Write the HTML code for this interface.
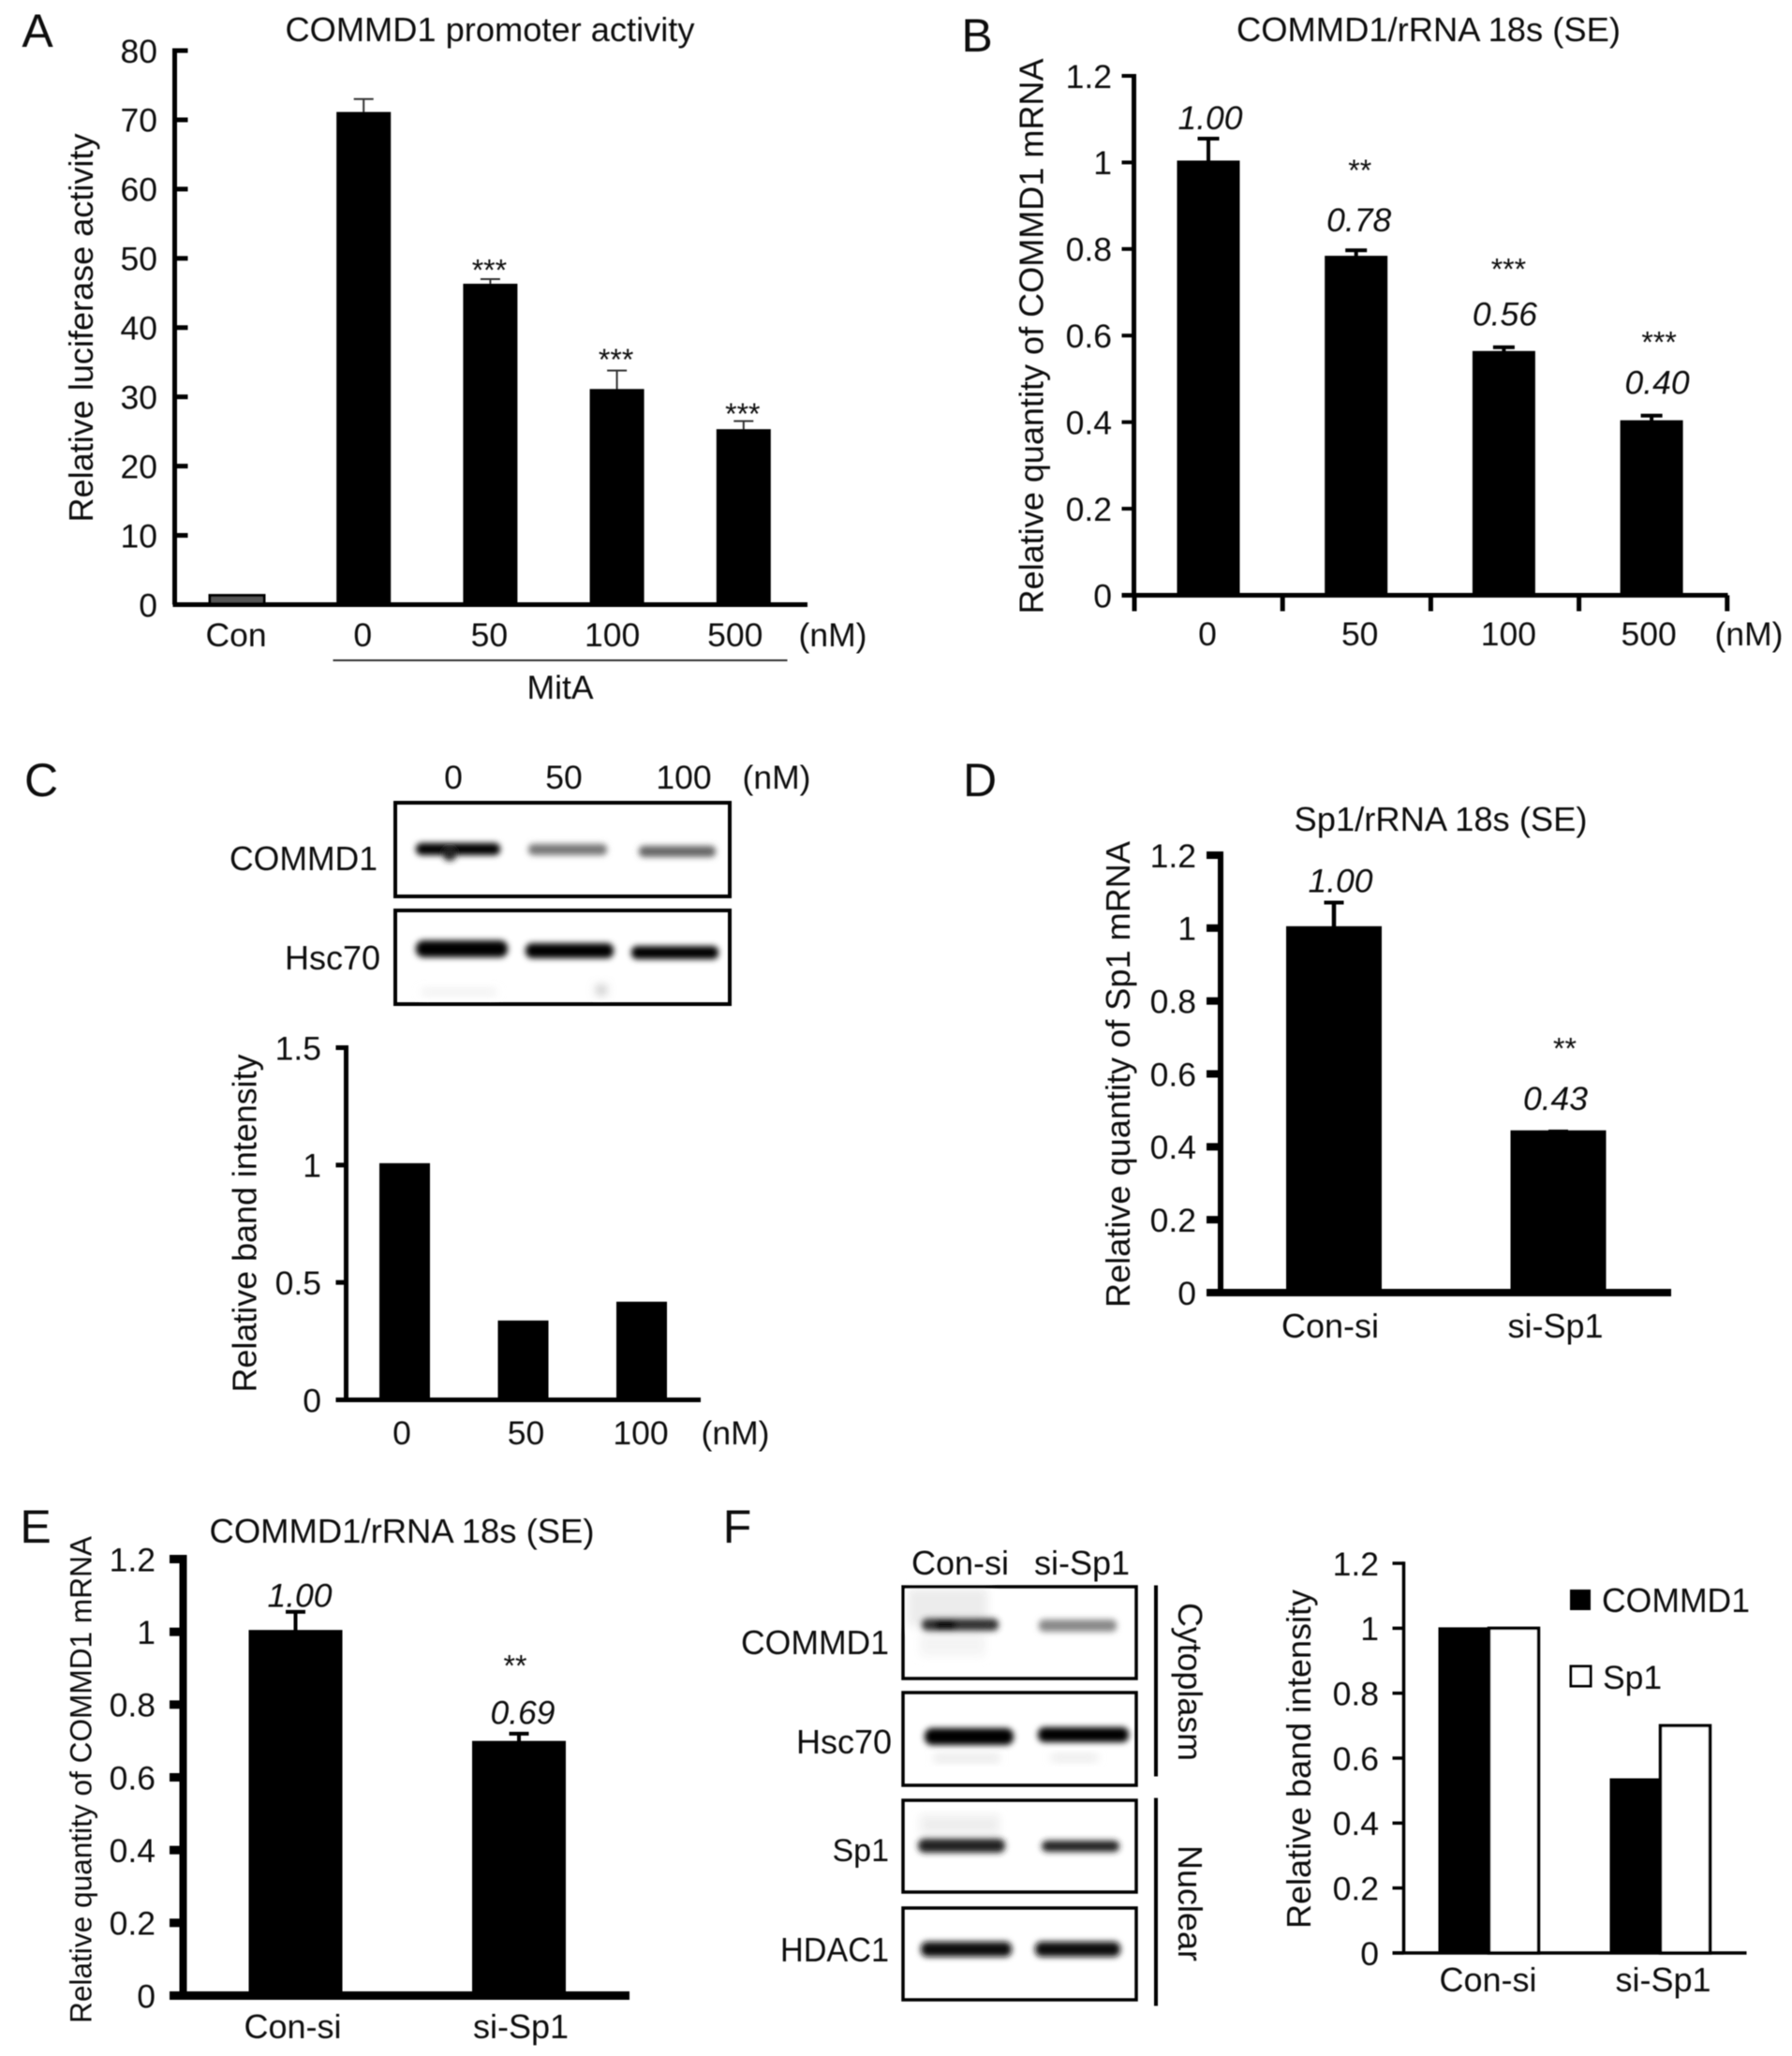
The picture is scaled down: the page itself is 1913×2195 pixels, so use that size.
<!DOCTYPE html>
<html lang="en">
<head>
<meta charset="utf-8">
<title>COMMD1 figure panels A-F</title>
<style>
html,body{margin:0;padding:0;background:#fff;}
svg{display:block;}
text{font-family:"Liberation Sans",Arial,sans-serif;fill:#111;}
</style>
</head>
<body>
<svg id="figure" xmlns="http://www.w3.org/2000/svg" width="1913" height="2195" viewBox="0 0 1913 2195">
<defs>
<filter id="soft" x="-2%" y="-2%" width="104%" height="104%"><feGaussianBlur stdDeviation="0.6"/></filter>
<filter id="bandblur" x="-30%" y="-200%" width="160%" height="500%"><feGaussianBlur stdDeviation="3.2"/></filter>
<filter id="smudge" x="-60%" y="-100%" width="220%" height="300%"><feGaussianBlur stdDeviation="5"/></filter>
</defs>
<rect x="0" y="0" width="1913" height="2195" fill="#fff"/>
<g id="root" filter="url(#soft)">

<!-- Panel C blots -->
<g>
  <g filter="url(#bandblur)">
    <rect x="444" y="900" width="90" height="13" rx="6" fill="#000"/>
    <rect x="473" y="904" width="14" height="15" rx="6" fill="#222"/>
    <rect x="564" y="901" width="84" height="12" rx="5" fill="#777"/>
    <rect x="682" y="903" width="82" height="12" rx="5" fill="#666"/>
  </g>
  <rect x="422" y="857" width="357" height="100" fill="none" stroke="#000" stroke-width="4"/>
</g>
<g>
  <g filter="url(#bandblur)">
    <rect x="444" y="1004" width="98" height="18" rx="8" fill="#000"/>
    <rect x="561" y="1007" width="94" height="16" rx="7" fill="#000"/>
    <rect x="674" y="1010" width="93" height="14" rx="6" fill="#000"/>
  </g>
  <g filter="url(#smudge)">
    <rect x="637" y="1052" width="10" height="10" fill="#bbb"/>
    <rect x="450" y="1057" width="80" height="4" fill="#e4e4e4"/>
  </g>
  <rect x="422" y="972" width="357" height="100" fill="none" stroke="#000" stroke-width="4"/>
</g>

<!-- Panel F blots -->
<g transform="translate(-3 -2)">
<g>
  <g filter="url(#smudge)">
    <rect x="972" y="1698" width="85" height="40" fill="#ececec"/>
    <rect x="985" y="1745" width="70" height="25" fill="#f4f4f4"/>
  </g>
  <g filter="url(#bandblur)">
    <rect x="987" y="1730" width="82" height="13" rx="6" fill="#333"/>
    <rect x="1000" y="1732" width="24" height="10" rx="5" fill="#000"/>
    <rect x="1112" y="1731" width="83" height="13" rx="5" fill="#888"/>
  </g>
  <rect x="967" y="1696" width="249" height="98" fill="none" stroke="#000" stroke-width="3.5"/>
</g>
<g>
  <g filter="url(#bandblur)">
    <rect x="990" y="1847" width="95" height="18" rx="8" fill="#000"/>
    <rect x="1111" y="1846" width="97" height="16" rx="7" fill="#000"/>
  </g>
  <g filter="url(#smudge)">
    <rect x="1000" y="1876" width="70" height="6" fill="#ddd"/>
    <rect x="1125" y="1876" width="50" height="5" fill="#ddd"/>
  </g>
  <rect x="967" y="1809" width="249" height="99" fill="none" stroke="#000" stroke-width="3.5"/>
</g>
<g>
  <g filter="url(#smudge)">
    <rect x="985" y="1940" width="85" height="20" fill="#eeeeee"/>
  </g>
  <g filter="url(#bandblur)">
    <rect x="983" y="1965" width="93" height="15" rx="7" fill="#222"/>
    <rect x="1115" y="1967" width="83" height="12" rx="6" fill="#222"/>
  </g>
  <rect x="967" y="1924" width="249" height="98" fill="none" stroke="#000" stroke-width="3.5"/>
</g>
<g>
  <g filter="url(#bandblur)">
    <rect x="986" y="2075" width="97" height="16" rx="7" fill="#111"/>
    <rect x="1108" y="2075" width="91" height="16" rx="7" fill="#111"/>
  </g>
  <rect x="967" y="2039" width="249" height="98" fill="none" stroke="#000" stroke-width="3.5"/>
</g>
</g>
<rect x="1232" y="1692.5" width="4" height="204" fill="#000"/>
<rect x="1232" y="1919.5" width="4" height="222" fill="#000"/>
<rect x="355.5" y="704" width="485" height="2" fill="#333"/>
</g>
</svg>

<script>
// ---------- Chart data ----------
const panelACategories = ['Con', '0', '50', '100', '500'];
const panelAValues = [1.2, 71, 46.2, 31, 25.2];
const panelAErrors = [0, 2, 0.8, 2.8, 1.3];
const panelASignificance = ['', '', '***', '***', '***'];
const panelATickLabels = ['0', '10', '20', '30', '40', '50', '60', '70', '80'];

const panelBCategories = ['0', '50', '100', '500'];
const panelBValues = [1.0, 0.78, 0.56, 0.40];
const panelBErrors = [0.055, 0.017, 0.013, 0.015];
const panelBPrinted = ['1.00', '0.78', '0.56', '0.40'];
const panelBSignificance = ['', '**', '***', '***'];
const panelBTickLabels = ['0', '0.2', '0.4', '0.6', '0.8', '1', '1.2'];

const panelCCategories = ['0', '50', '100'];
const panelCValues = [1.0, 0.33, 0.41];
const panelCTickLabels = ['0', '0.5', '1', '1.5'];

const panelDCategories = ['Con-si', 'si-Sp1'];
const panelDValues = [1.0, 0.44];
const panelDErrors = [0.07, 0.002];
const panelDPrinted = ['1.00', '0.43'];
const panelDSignificance = ['', '**'];
const panelDTickLabels = ['0', '0.2', '0.4', '0.6', '0.8', '1', '1.2'];

const panelECategories = ['Con-si', 'si-Sp1'];
const panelEValues = [1.0, 0.695];
const panelEErrors = [0.055, 0.025];
const panelEPrinted = ['1.00', '0.69'];
const panelESignificance = ['', '**'];
const panelETickLabels = ['0', '0.2', '0.4', '0.6', '0.8', '1', '1.2'];

const panelFCategories = ['Con-si', 'si-Sp1'];
const panelFCommd1 = [1.0, 0.535];
const panelFSp1 = [1.0, 0.70];
const panelFTickLabels = ['0', '0.2', '0.4', '0.6', '0.8', '1', '1.2'];

// ---------- Drawing helpers ----------
const SVGNS = 'http://www.w3.org/2000/svg';
const root = document.getElementById('root');
const FS = 35.5;
const BAR_PAD = 2; // bars in the source have a thin outline above the value

function shape(parent, tag, name, attrs) {
  const el = document.createElementNS(SVGNS, tag);
  for (const k in attrs) el.setAttribute(k, attrs[k]);
  
  
  parent.appendChild(el);
  return el;
}
function group(parent, name) {
  return shape(parent, 'g', name, {});
}
// yc = visual centre of the text line; rot = rotation about (x, yc)
function label(parent, name, str, x, yc, o) {
  o = o || {};
  const size = o.size || FS;
  const attrs = {
    'font-size': size,
    'text-anchor': o.anchor || 'middle'
  };
  if (o.italic) attrs['font-style'] = 'italic';
  if (o.rot) {
    attrs.x = 0;
    attrs.y = size * 0.36;
    attrs.transform = 'translate(' + x + ' ' + yc + ') rotate(' + o.rot + ')';
  } else {
    attrs.x = x;
    attrs.y = yc + size * 0.36;
  }
  if (o.len) {
    attrs.textLength = o.len;
    attrs.lengthAdjust = 'spacingAndGlyphs';
  }
  const el = shape(parent, 'text', name, attrs);
  el.textContent = str;
  return el;
}
function stars(parent, name, str, x, yc, size) {
  const el = shape(parent, 'text', name, {
    x: x, y: yc + size * 0.58, 'font-size': size, 'text-anchor': 'middle'
  });
  el.textContent = str;
  return el;
}
function makeY(c) {
  return function (v) {
    return c.yBase - v / c.yMax * (c.yBase - c.yTop);
  };
}
function drawAxes(g, c, tickLabels, y) {
  shape(g, 'rect', 'y-axis', {
    x: c.axisX - c.axisW / 2, y: c.yTop - c.tickH / 2,
    width: c.axisW, height: c.yBase - c.yTop + c.tickH / 2, fill: '#000'
  });
  shape(g, 'rect', 'x-axis', {
    x: c.baseFrom, y: c.yBase - c.baseH / 2,
    width: c.xEnd - c.baseFrom, height: c.baseH, fill: '#000'
  });
  tickLabels.forEach(function (t) {
    const v = parseFloat(t);
    const yy = y(v);
    shape(g, 'rect', 'y-tick-' + t, {
      x: c.tickFrom, y: yy - c.tickH / 2,
      width: c.tickTo - c.tickFrom, height: c.tickH, fill: '#000'
    });
    label(g, 'y-tick-label-' + t, t, c.tickRight, yy, { anchor: 'end' });
  });
}
function drawBarChart(name, c, categories, values, errors, printed, sig, tickLabels) {
  const g = group(root, name);
  const y = makeY(c);
  const pad = c.barPad === undefined ? BAR_PAD : c.barPad;
  const barX = function (i) { return c.x0 + c.step * i; };
  values.forEach(function (v, i) {
    const cx = barX(i);
    const err = errors ? errors[i] : 0;
    if (err > 0) {
      const top = y(v + err);
      shape(g, 'rect', 'error-stem-' + categories[i], {
        x: cx - c.errW / 2, y: top, width: c.errW, height: y(v) - top, fill: c.errColor
      });
      shape(g, 'rect', 'error-cap-' + categories[i], {
        x: cx - c.capW / 2, y: top - c.capH / 2, width: c.capW, height: c.capH, fill: c.errColor
      });
    }
    const outlined = c.outlined && c.outlined[i];
    const b = shape(g, 'rect', 'bar-' + categories[i], {
      x: cx - c.barW / 2, y: y(v) - pad, width: c.barW, height: c.yBase - y(v) + pad,
      fill: outlined ? '#555' : '#000'
    });
    if (outlined) {
      b.setAttribute('stroke', '#000');
      b.setAttribute('stroke-width', '3');
    }
    const errTop = y(v + err);
    let valueY = errTop;
    if (printed && printed[i]) {
      valueY = errTop - c.valueGap[i];
      label(g, 'value-label-' + categories[i], printed[i], cx + c.valueDx[i], valueY, { italic: true });
    }
    if (sig && sig[i]) {
      stars(g, 'significance-' + categories[i], sig[i], cx + c.starDx[i], valueY - c.starGap[i], 32);
    }
    label(g, 'category-label-' + categories[i], categories[i], cx + c.catDx[i], c.catY, { size: c.catSize || FS });
  });
  drawAxes(g, c, tickLabels, y);
  return { g: g, y: y };
}

// ---------- Panel A ----------
const chartA = drawBarChart('panel-a-chart', {
  axisX: 186.5, axisW: 5, yTop: 54, yBase: 645.5, yMax: 80,
  tickFrom: 184.5, tickTo: 200.5, tickH: 5, tickRight: 168,
  baseFrom: 184.5, xEnd: 862, baseH: 5,
  x0: 253, step: 135.2, barW: 58, catY: 677, barPad: 1,
  errW: 2, capW: 21, capH: 2, errColor: '#333',
  outlined: [true, false, false, false, false],
  starDx: [0, 0, -1, -1, -1], starGap: [0, 0, 17, 19, 15],
  catDx: [-1, -1, -1, -5, -9]
}, panelACategories, panelAValues, panelAErrors, null, panelASignificance, panelATickLabels);
label(chartA.g, 'panel-a-title', 'COMMD1 promoter activity', 523, 31, { size: 36, len: 437 });
label(chartA.g, 'panel-a-y-axis-title', 'Relative luciferase activity', 86, 350, { size: 36, rot: -90, len: 415 });
label(chartA.g, 'panel-a-unit', '(nM)', 889, 677);
label(chartA.g, 'panel-a-mita-label', 'MitA', 598, 733);

// ---------- Panel B ----------
const chartB = drawBarChart('panel-b-chart', {
  axisX: 1210.5, axisW: 5, yTop: 81, yBase: 635.5, yMax: 1.2,
  tickFrom: 1197.5, tickTo: 1210.5, tickH: 4, tickRight: 1187,
  baseFrom: 1197.5, xEnd: 1844.5, baseH: 5,
  x0: 1290, step: 157.7, barW: 67, catY: 676,
  errW: 4, capW: 23, capH: 4, errColor: '#000',
  valueDx: [2, 3, 1, 6], valueGap: [23, 33, 36, 36],
  starDx: [0, 4, 5, 8], starGap: [0, 60, 55, 50],
  catDx: [-1, 4, 5, -3]
}, panelBCategories, panelBValues, panelBErrors, panelBPrinted, panelBSignificance, panelBTickLabels);
for (let i = 0; i <= panelBCategories.length; i++) {
  const tickEl = document.createElementNS(SVGNS, 'rect');
  tickEl.setAttribute('x', 1208.5 + 158.2 * i);
  tickEl.setAttribute('y', 635.5);
  tickEl.setAttribute('width', 5);
  tickEl.setAttribute('height', 17);
  tickEl.setAttribute('fill', '#000');
  
  
  chartB.g.appendChild(tickEl);
}
label(chartB.g, 'panel-b-title', 'COMMD1/rRNA 18s (SE)', 1525, 31, { size: 36, len: 410 });
label(chartB.g, 'panel-b-y-axis-title', 'Relative quantity of COMMD1 mRNA', 1100.5, 359, { size: 36, rot: -90, len: 593 });
label(chartB.g, 'panel-b-unit', '(nM)', 1867, 676);

// ---------- Panel C ----------
const chartC = drawBarChart('panel-c-chart', {
  axisX: 369.5, axisW: 5, yTop: 1118.5, yBase: 1494.5, yMax: 1.5,
  tickFrom: 358.5, tickTo: 369.5, tickH: 5, tickRight: 343,
  baseFrom: 358.5, xEnd: 748, baseH: 5,
  x0: 432, step: 126.5, barW: 54, catY: 1529,
  catDx: [-3, 3, -1]
}, panelCCategories, panelCValues, null, null, null, panelCTickLabels);
label(chartC.g, 'panel-c-y-axis-title', 'Relative band intensity', 260.5, 1306, { size: 36, rot: -90, len: 361 });
label(chartC.g, 'panel-c-unit', '(nM)', 785, 1529);

// ---------- Panel D ----------
const chartD = drawBarChart('panel-d-chart', {
  axisX: 1303, axisW: 6, yTop: 913, yBase: 1380, yMax: 1.2,
  tickFrom: 1288, tickTo: 1303, tickH: 8, tickRight: 1277,
  baseFrom: 1288, xEnd: 1784, baseH: 8,
  x0: 1424, step: 239.5, barW: 102, catY: 1415, catSize: 36,
  errW: 4.5, capW: 21, capH: 4, errColor: '#000',
  valueDx: [7, -3], valueGap: [24, 36],
  starDx: [0, 7], starGap: [0, 60],
  catDx: [-4, -3]
}, panelDCategories, panelDValues, panelDErrors, panelDPrinted, panelDSignificance, panelDTickLabels);
label(chartD.g, 'panel-d-title', 'Sp1/rRNA 18s (SE)', 1538, 874, { size: 36, len: 313 });
label(chartD.g, 'panel-d-y-axis-title', 'Relative quantity of Sp1 mRNA', 1193, 1147, { size: 36, rot: -90, len: 498 });

// ---------- Panel E ----------
const chartE = drawBarChart('panel-e-chart', {
  axisX: 195.5, axisW: 8, yTop: 1664.5, yBase: 2130.5, yMax: 1.2,
  tickFrom: 181, tickTo: 196, tickH: 9, tickRight: 166,
  baseFrom: 181, xEnd: 672, baseH: 9,
  x0: 315.5, step: 238.5, barW: 100, catY: 2163, catSize: 36,
  errW: 4, capW: 21, capH: 4, errColor: '#000',
  valueDx: [4.5, 4], valueGap: [18, 23],
  starDx: [0, -4], starGap: [0, 57],
  catDx: [-3, 2]
}, panelECategories, panelEValues, panelEErrors, panelEPrinted, panelESignificance, panelETickLabels);
label(chartE.g, 'panel-e-title', 'COMMD1/rRNA 18s (SE)', 429, 1634, { size: 36, len: 411 });
label(chartE.g, 'panel-e-y-axis-title', 'Relative quantity of COMMD1 mRNA', 86, 1900, { size: 32, rot: -90, len: 520 });

// ---------- Panel F chart ----------
const groupF = group(root, 'panel-f-chart');
const layoutF = {
  axisX: 1498.5, axisW: 3.5, yTop: 1669, yBase: 2085, yMax: 1.2,
  tickFrom: 1486.5, tickTo: 1498.5, tickH: 3.5, tickRight: 1472,
  baseFrom: 1486.5, xEnd: 1864.5, baseH: 3.5
};
const yF = makeY(layoutF);
const groupCenterF = function (i) { return 1589.5 + 183 * i; };
panelFCategories.forEach(function (cat, i) {
  const cx = groupCenterF(i);
  shape(groupF, 'rect', 'bar-commd1-' + cat, {
    x: cx - 54, y: yF(panelFCommd1[i]) - 1, width: 54, height: layoutF.yBase - yF(panelFCommd1[i]) + 1, fill: '#000'
  });
  shape(groupF, 'rect', 'bar-sp1-' + cat, {
    x: cx, y: yF(panelFSp1[i]), width: 53, height: layoutF.yBase - yF(panelFSp1[i]),
    fill: '#fff', stroke: '#000', 'stroke-width': 3.5
  });
  label(groupF, 'category-label-' + cat, cat, cx + (i === 0 ? -1 : 3), 2113, { size: 36 });
});
drawAxes(groupF, layoutF, panelFTickLabels, yF);
label(groupF, 'panel-f-y-axis-title', 'Relative band intensity', 1386, 1878, { size: 36, rot: -90, len: 362 });
shape(groupF, 'rect', 'legend-swatch-commd1', { x: 1676, y: 1697, width: 22, height: 22, fill: '#000' });
label(groupF, 'legend-label-commd1', 'COMMD1', 1710, 1708, { size: 36, anchor: 'start', len: 158 });
shape(groupF, 'rect', 'legend-swatch-sp1', { x: 1677, y: 1779, width: 21, height: 21, fill: '#fff', stroke: '#000', 'stroke-width': 3 });
label(groupF, 'legend-label-sp1', 'Sp1', 1711, 1790, { anchor: 'start' });

// ---------- Static labels ----------
const labelsG = group(root, 'figure-labels');
label(labelsG, 'panel-letter-a', 'A', 40, 32, { size: 50 });
label(labelsG, 'panel-letter-b', 'B', 1043, 37, { size: 50 });
label(labelsG, 'panel-letter-c', 'C', 44, 832, { size: 50 });
label(labelsG, 'panel-letter-d', 'D', 1046, 832, { size: 50 });
label(labelsG, 'panel-letter-e', 'E', 38, 1629, { size: 50 });
label(labelsG, 'panel-letter-f', 'F', 787, 1629, { size: 50 });

label(labelsG, 'blot-c-lane-0', '0', 484, 829);
label(labelsG, 'blot-c-lane-50', '50', 602, 829);
label(labelsG, 'blot-c-lane-100', '100', 730, 829);
label(labelsG, 'blot-c-unit', '(nM)', 829, 829);
label(labelsG, 'blot-c-label-commd1', 'COMMD1', 403, 916, { size: 36, anchor: 'end', len: 158 });
label(labelsG, 'blot-c-label-hsc70', 'Hsc70', 406, 1022, { size: 36, anchor: 'end' });

label(labelsG, 'blot-f-lane-con-si', 'Con-si', 1025, 1668, { size: 36 });
label(labelsG, 'blot-f-lane-si-sp1', 'si-Sp1', 1155, 1668, { size: 36 });
label(labelsG, 'blot-f-label-commd1', 'COMMD1', 949, 1753, { size: 36, anchor: 'end', len: 158 });
label(labelsG, 'blot-f-label-hsc70', 'Hsc70', 952, 1859, { size: 36, anchor: 'end' });
label(labelsG, 'blot-f-label-sp1', 'Sp1', 949, 1975, { size: 34, anchor: 'end' });
label(labelsG, 'blot-f-label-hdac1', 'HDAC1', 949, 2081, { size: 36, anchor: 'end', len: 116 });
label(labelsG, 'cytoplasm-label', 'Cytoplasm', 1271, 1795.5, { size: 36, rot: 90, len: 169 });
label(labelsG, 'nuclear-label', 'Nuclear', 1271, 2032, { size: 36, rot: 90, len: 124 });
</script>
</body>
</html>
